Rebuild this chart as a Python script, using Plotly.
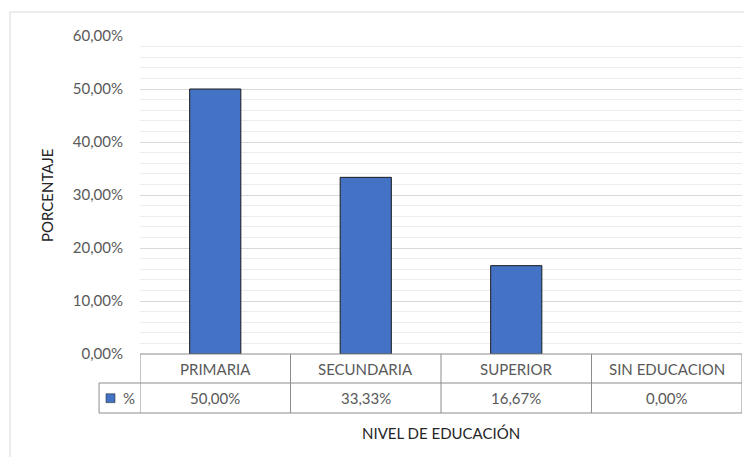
import plotly.graph_objects as go

categories = ["PRIMARIA", "SECUNDARIA", "SUPERIOR", "SIN EDUCACION"]
values = [50.00, 33.33, 16.67, 0.00]
series_name = "%"
y_ticks = [0, 10, 20, 30, 40, 50, 60]

FONT = "Lato"
FS = 15
BAR_COLOR = "#4472C4"
TXT = "#595959"
TITLE = "#262626"
LINE = "#8C8C8C"

fig = go.Figure()
fig.add_trace(go.Bar(
    x=categories, y=values, name=series_name,
    marker=dict(color=BAR_COLOR,
                line=dict(color="#1a1a1a", width=[1 if v > 0 else 0 for v in values])),
    width=0.34, showlegend=False,
))

def fmt(v):
    return f"{v:.2f}%".replace(".", ",")

# Data table under the chart
y_hdr_top, y_hdr_bot, y_val_bot = 0.0, -0.0912, -0.1855
x_left_cell = -0.068  # paper coords of legend-key cell's left edge
shapes = []
for yy in (y_hdr_top, y_hdr_bot, y_val_bot):
    shapes.append(dict(type="line", xref="paper", yref="paper",
                       x0=(x_left_cell if yy != y_hdr_top else 0), x1=1, y0=yy, y1=yy,
                       line=dict(color=LINE, width=1)))
n = len(categories)
for i in range(n + 1):
    shapes.append(dict(type="line", xref="x", yref="paper",
                       x0=i - 0.5, x1=i - 0.5, y0=y_hdr_top, y1=y_val_bot,
                       line=dict(color=LINE, width=1)))
shapes.append(dict(type="line", xref="paper", yref="paper",
                   x0=x_left_cell, x1=x_left_cell, y0=y_hdr_bot, y1=y_val_bot,
                   line=dict(color=LINE, width=1)))
# legend key square
shapes.append(dict(type="rect", xref="paper", yref="paper",
                   x0=-0.0565, x1=-0.0415, y0=-0.125, y1=-0.153,
                   fillcolor=BAR_COLOR, line=dict(color="#1a1a1a", width=0.5)))
# outer chart frame
shapes.append(dict(type="rect", xref="paper", yref="paper",
                   x0=-0.216, x1=1.05, y0=-0.5, y1=1.0755,
                   line=dict(color="#D9D9D9", width=1), layer="below"))

annotations = []
tf = dict(family=FONT, size=FS, color=TXT)
for c, v in zip(categories, values):
    annotations.append(dict(x=c, xref="x", y=(y_hdr_top + y_hdr_bot) / 2, yref="paper",
                            text=c, showarrow=False, xanchor="center", yanchor="middle", font=tf))
    annotations.append(dict(x=c, xref="x", y=(y_hdr_bot + y_val_bot) / 2, yref="paper",
                            text=fmt(v), showarrow=False, xanchor="center", yanchor="middle", font=tf))
annotations.append(dict(x=-0.019, xref="paper", y=(y_hdr_bot + y_val_bot) / 2, yref="paper",
                        text=series_name, showarrow=False, xanchor="center", yanchor="middle", font=tf))
annotations.append(dict(x=0.5, xref="paper", y=-0.248, yref="paper",
                        text="NIVEL DE EDUCACIÓN", showarrow=False, xanchor="center", yanchor="middle",
                        font=dict(family=FONT, size=FS, color=TITLE)))
annotations.append(dict(x=-0.1545, xref="paper", y=0.5, yref="paper",
                        text="PORCENTAJE", showarrow=False, textangle=-90,
                        xanchor="center", yanchor="middle",
                        font=dict(family=FONT, size=FS, color=TITLE)))

# page body has an 8px default margin, so size/margins are offset by 8px
fig.update_layout(
    width=744, height=449,
    margin=dict(l=132, r=10, t=28, b=103, autoexpand=False),
    paper_bgcolor="white", plot_bgcolor="white",
    separators=",.",
    shapes=shapes, annotations=annotations,
    font=dict(family=FONT, size=FS, color=TXT),
)
fig.update_xaxes(showticklabels=False, showgrid=False, range=[-0.5, n - 0.5], zeroline=False)
fig.update_yaxes(range=[0, 60], tickvals=y_ticks,
                 ticktext=[fmt(t) for t in y_ticks],
                 showgrid=True, gridcolor="#D9D9D9", gridwidth=1, zeroline=False,
                 ticklabelstandoff=16, automargin=False,
                 minor=dict(dtick=2, showgrid=True, gridcolor="#EDEDED", gridwidth=1),
                 tickfont=tf)

fig.write_html("out.html")
